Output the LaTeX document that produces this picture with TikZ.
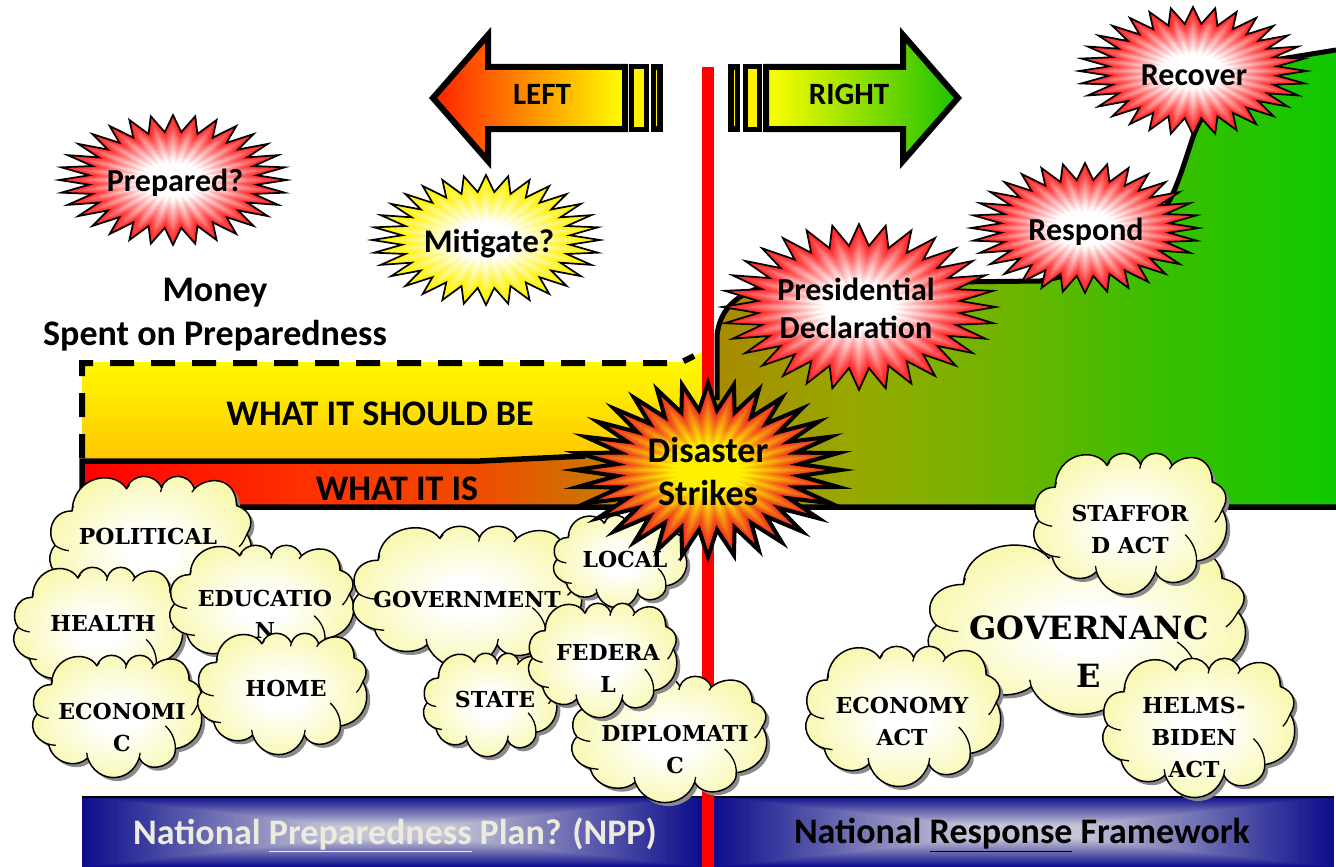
\documentclass[tikz,border=0pt]{standalone}
\usepackage{fontspec}
\setmainfont{Carlito}
\newfontfamily\clfont{DejaVu Serif}
\usetikzlibrary{calc}
\definecolor{cloudy}{HTML}{F8F8AE}
\definecolor{cloudshadow}{HTML}{8A8A8A}
\definecolor{burstred}{HTML}{FF1E1E}
\definecolor{navyedge}{HTML}{0E0E8C}
\definecolor{navymid}{HTML}{C4C4D6}
\definecolor{a1}{HTML}{FF0000}\definecolor{a2}{HTML}{FF3000}\definecolor{a3}{HTML}{F04C00}
\definecolor{a4}{HTML}{C87800}\definecolor{a5}{HTML}{A88A00}\definecolor{a6}{HTML}{98A800}
\definecolor{a7}{HTML}{70B400}\definecolor{a8}{HTML}{3CBE00}\definecolor{a9}{HTML}{10C800}
\pgfdeclarehorizontalshading{areashade}{100bp}{color(0bp)=(a1); color(25bp)=(a1); color(33.7bp)=(a2); color(40.9bp)=(a3); color(45.7bp)=(a4); color(50.3bp)=(a5); color(55.6bp)=(a6); color(61.6bp)=(a7); color(67.6bp)=(a8); color(75bp)=(a9); color(100bp)=(a9)}
\pgfdeclareradialshading{cloudshade}{\pgfpointorigin}{color(0bp)=(white); color(6bp)=(white); color(25bp)=(cloudy); color(50bp)=(cloudy)}
% ---- cloud outline in a 0..100 box
\def\cpath{(11.4,24.1)
 .. controls (12,0) and (32,-5) .. (38.2,8.8)
 .. controls (41,-2.5) and (52,-2.5) .. (55.5,8.2)
 .. controls (58,-2.5) and (69,-2.5) .. (71.6,8.8)
 .. controls (78,0) and (92,0) .. (92.5,20.5)
 .. controls (100,24) and (101,33) .. (97.5,40)
 .. controls (103,52) and (99,73) .. (84.3,76.2)
 .. controls (85,90) and (68,98) .. (63.1,83.6)
 .. controls (58,105) and (38,105) .. (32.7,83.6)
 .. controls (26,93) and (12,88) .. (9.8,72.6)
 .. controls (1,69) and (-2.5,56) .. (3,47.9)
 .. controls (-1.5,40) and (1,24) .. (11.4,24.1)}
\def\chook{(97.5,40) .. controls (96.5,43) and (95.5,46.5) .. (93.7,48.8)
 (78.4,57.5) .. controls (82,62) and (84.5,69) .. (84.3,76.2)
 (3,47.9) .. controls (5,50) and (7.5,51.2) .. (9.8,51.5)
 (63.1,83.6) -- (63.6,79.5) (32.7,83.6) -- (32.2,79.5) (9.8,72.6) -- (14,73.5)
 (11.4,24.1) -- (12,20.5) (38.2,8.8) -- (39.6,6.2) (55.5,8.2) -- (55,11) (71.6,8.8) -- (70.4,11.2) (92.5,20.5) -- (92.2,16.5)}
% ---- unit 32-point stars
\newcommand\mkstar[2]{%
  \gdef#1{(0,-1)}%
  \foreach \k in {0,...,31}{%
    \pgfmathsetmacro\ax{#2*cos(-90+(\k+.5)*11.25)}%
    \pgfmathsetmacro\ay{#2*sin(-90+(\k+.5)*11.25)}%
    \pgfmathsetmacro\bx{cos(-90+(\k+1)*11.25)}%
    \pgfmathsetmacro\by{sin(-90+(\k+1)*11.25)}%
    \xdef#1{#1 -- (\ax,\ay) -- (\bx,\by)}}}
\mkstar{\starA}{0.74}
\mkstar{\starB}{0.69}
% #1 star #2 cx #3 cy #4 rx #5 ry #6 outer #7 inner #8 line width
\newcommand\burst[8]{%
  \fill[#6,x=#4pt,y=-#5pt,shift={(#2pt,-#3pt)}] #1 -- cycle;
  \foreach \p in {1,...,24}{%
    \pgfmathsetmacro\sc{1-\p/25}%
    \pgfmathsetmacro\pct{min(100,150*\p/25)}%
    \pgfmathsetmacro\rxx{#4*\sc}%
    \pgfmathsetmacro\ryy{#5*\sc}%
    \fill[#7!\pct!#6,shift={(#2pt,-#3pt)},x=\rxx pt,y=-\ryy pt] #1 -- cycle;
  }
  \draw[line width=#8pt,miter limit=12,shift={(#2pt,-#3pt)},x=#4pt,y=-#5pt] #1 -- cycle;
}
\newcommand\drawcloud[4]{%
  \pgfmathsetmacro\csx{#3/100}%
  \pgfmathsetmacro\csy{#4/100}%
  \begin{scope}[shift={(#1,#2)},x=\csx pt,y=-\csy pt]
    \fill[cloudshadow,xshift=3.5pt,yshift=-3.5pt] \cpath -- cycle;
    \shade[shading=cloudshade] \cpath -- cycle;
    \draw[line width=1.5pt,line join=round] \cpath -- cycle;
    \draw[line width=1.3pt] \chook;
  \end{scope}}
\newcommand\band[4]{% x0 y0 x1 y1
  \fill[navyedge] (#1,#2) rectangle (#3,#4);
  \foreach \p in {1,...,60}{%
    \pgfmathsetmacro\sc{1-\p/61}%
    \pgfmathsetmacro\pct{min(100,125*\p/61)}%
    \pgfmathsetmacro\cxx{(#1+#3)/2}\pgfmathsetmacro\cyy{(#2+#4)/2}%
    \pgfmathsetmacro\hx{(#3-#1)/2*\sc}\pgfmathsetmacro\hy{(#4-#2)/2*\sc}%
    \fill[navymid!\pct!navyedge] (\cxx-\hx,\cyy-\hy) rectangle (\cxx+\hx,\cyy+\hy);
  }
  \draw[line width=2.5pt] (#1,#2) -- (#3,#2);
}
\tikzset{
  x=1pt,y=-1pt,
  capt/.style={font=\fontsize{#1}{#1}\selectfont\bfseries,inner sep=0pt},
  ctext/.style n args={2}{font=\fontsize{#1}{#2}\clfont\selectfont\bfseries,align=center,inner sep=0pt},
  label36/.style={font=\fontsize{36}{44}\selectfont\bfseries,inner sep=0pt,align=center},
  arrowline/.style={line width=6pt,miter limit=10},
  barline/.style={line width=5pt,fill=yellow},
  thinbar/.style={line width=5.6pt,fill=yellow},
}
\begin{document}
\begin{tikzpicture}
\useasboundingbox (0,0) rectangle (1336,867);
\fill[white] (0,0) rectangle (1336,867);
% bottom bands
\band{82}{797}{702}{867}
\band{714}{797}{1334}{867}
\node[label36,text={rgb,255:red,236;green,236;blue,222}] (npp) at (395,835) {National \underline{Preparedness} Plan? (NPP)};
\node[label36] (nrf) at (1022,835) {National \underline{Response} Framework};
% should-be block
\shade[top color=yellow,bottom color={rgb,255:red,255;green,198;blue,0}] (82,362) -- (680,362) -- (702,352) -- (702,461) -- (82,461) -- cycle;
% cost area
\shade[shading=areashade] (82,461) -- (480,461) -- (600,455) -- (716,455) -- (716,335) .. controls (720,312) and (733,292) .. (775,284) -- (1040,281) .. controls (1110,270) and (1160,225) .. (1173,193) .. controls (1180,178) and (1186,158) .. (1193,137) .. controls (1208,95) and (1250,62) .. (1293,57) -- (1336,50) -- (1336,507) -- (82,507) -- cycle;
% centre line
\fill[red] (702,67) rectangle (714,867);
% outlines
\draw[line width=6pt,dash pattern=on 24pt off 17pt] (82,458) -- (82,363) -- (680,363) -- (694,356);
\draw[line width=5.5pt] (585,456) -- (480,461) -- (82,461) -- (82,507) -- (1336,507);
\draw[line width=5pt] (717,400) -- (717,335) .. controls (720,312) and (733,292) .. (775,284) -- (1040,281) .. controls (1110,270) and (1160,225) .. (1173,193) .. controls (1180,178) and (1186,158) .. (1193,137) .. controls (1208,95) and (1250,62) .. (1293,57) -- (1336,50);
\node[label36] (should) at (380,414) {WHAT IT SHOULD BE};
\node[label36] (is) at (397,489) {WHAT IT IS};
% arrows
\shade[left color={rgb,255:red,255;green,32;blue,0},right color=yellow] (433,98) -- (488,35) -- (488,67) -- (625,67) -- (625,129) -- (488,129) -- (488,161) -- cycle;
\draw[arrowline] (433,98) -- (488,35) -- (488,67) -- (625,67) -- (625,129) -- (488,129) -- (488,161) -- cycle;
\draw[barline] (631.5,67) rectangle (646,129);
\draw[thinbar] (653.5,67) rectangle (660,129);
\shade[left color=yellow,right color={rgb,255:red,28;green,192;blue,0}] (958,98) -- (903,35) -- (903,67) -- (766,67) -- (766,129) -- (903,129) -- (903,161) -- cycle;
\draw[arrowline] (958,98) -- (903,35) -- (903,67) -- (766,67) -- (766,129) -- (903,129) -- (903,161) -- cycle;
\draw[barline] (745,67) rectangle (759.5,129);
\draw[thinbar] (731,67) rectangle (737.5,129);
\node[capt=31] (left) at (542,94) {LEFT};
\node[capt=31] (right) at (849,94) {RIGHT};
% labels
\node[label36] (money) at (215,315) {Money\\Spent on Preparedness};
% bursts
\burst{\starA}{173}{180}{114}{65}{burstred}{white}{1.7}
\node[capt=32] (prepared) at (175,183) {Prepared?};
\burst{\starA}{486}{240}{114}{65}{yellow}{white}{1.7}
\node[capt=33] (mitigate) at (489,244) {Mitigate?};
\burst{\starA}{1193}{71}{114}{64}{burstred}{white}{1.7}
\node[capt=32] (recover) at (1194,75) {Recover};
\burst{\starA}{1085}{228}{114}{65}{burstred}{white}{1.7}
\node[capt=32] (respond) at (1086,232) {Respond};
\burst{\starA}{859}{307}{137}{83}{burstred}{white}{1.7}
\node[font=\fontsize{32}{38}\selectfont\bfseries,align=center,inner sep=0pt] (pres) at (856,308) {Presidential\\Declaration};
% clouds, left group
\drawcloud{49}{476}{203}{145}
\node[ctext={22}{32}] (political) at (148,536) {POLITICAL};
\drawcloud{13}{567}{170}{126}
\node[ctext={22}{32}] (health) at (103,623) {HEALTH};
\drawcloud{32}{655}{170}{123}
\node[ctext={22}{32}] (economic) at (122,727) {ECONOMI\\C};
\drawcloud{169}{545}{185}{123}
\node[ctext={22}{32}] (education) at (265,614) {EDUCATIO\\N};
\drawcloud{197}{633}{170}{122}
\node[ctext={22}{32}] (home) at (286,688) {HOME};
% clouds, middle group
\drawcloud{352}{526}{230}{142}
\node[ctext={22}{32}] (government) at (467,599) {GOVERNMENT};
\drawcloud{553}{515}{134}{93}
\drawcloud{423}{653}{134}{104}
\node[ctext={22}{32}] (state) at (495,699) {STATE};
\drawcloud{571}{676}{196}{127}
\node[ctext={22}{32}] (diplomatic) at (675,749) {DIPLOMATI\\C};
\drawcloud{528}{603}{149}{115}
\node[ctext={22}{32}] (federal) at (608,668) {FEDERA\\L};
% clouds, right group
\drawcloud{927}{543}{319}{172}
\node[ctext={32}{48}] (governance) at (1089,652) {GOVERNANC\\E};
\drawcloud{1033}{453}{194}{142}
\node[ctext={22}{32}] (stafford) at (1130,529) {STAFFOR\\D ACT};
\drawcloud{805}{646}{196}{141}
\node[ctext={22}{32}] (economy) at (902,721) {ECONOMY\\ACT};
\drawcloud{1102}{658}{193}{140}
\node[ctext={22}{32}] (helms) at (1194,737) {HELMS-\\BIDEN\\ACT};
% disaster
\burst{\starB}{708}{470}{133}{87}{red}{yellow}{4}
\node[font=\fontsize{36}{43}\selectfont\bfseries,align=center,inner sep=0pt] (disaster) at (708,471) {Disaster\\Strikes};
\node[ctext={22}{32}] (local) at (625,559) {LOCAL};
\end{tikzpicture}
\end{document}
